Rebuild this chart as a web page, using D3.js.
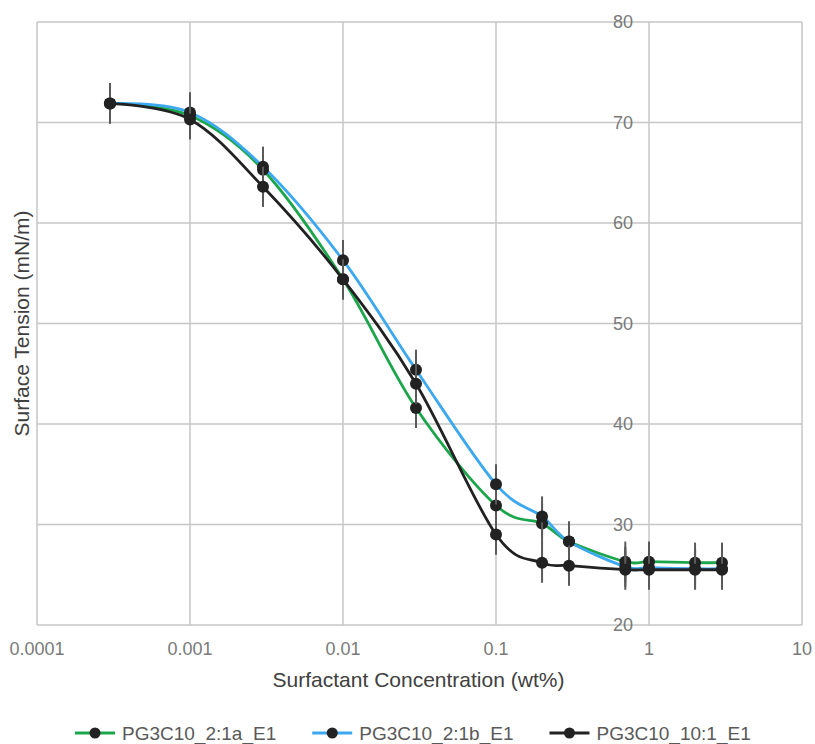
<!DOCTYPE html>
<html lang="en">
<head>
<meta charset="utf-8">
<script src="https://d3js.org/d3.v7.min.js"></script>
<style>
  body { margin: 0; background: #fff; }
  text { font-family: "Liberation Sans", Arial, sans-serif; }
</style>
</head>
<body>
<div id="chart"></div>
<script>
// concentrations (wt%)
var conc = [0.0003, 0.001, 0.003, 0.01, 0.03, 0.1, 0.2, 0.3, 0.7, 1, 2, 3];
// surface tension (mN/m) for each sample
var tension2a  = [71.9, 70.7, 65.3, 54.4, 41.6, 31.9, 30.1, 28.3, 26.3, 26.3, 26.2, 26.2];
var tension2b  = [71.9, 71.0, 65.6, 56.3, 45.4, 34.0, 30.8, 28.3, 25.8, 25.7, 25.6, 25.6];
var tension10  = [71.9, 70.3, 63.6, 54.4, 44.0, 29.0, 26.2, 25.9, 25.5, 25.5, 25.5, 25.5];
var errBar = 2;
var seriesNames = ["PG3C10_2:1a_E1", "PG3C10_2:1b_E1", "PG3C10_10:1_E1"];
var seriesColors = ["#1ba64c", "#3ba8ef", "#222222"];
var xTicks = [0.0001, 0.001, 0.01, 0.1, 1, 10];
var yTicks = [20, 30, 40, 50, 60, 70, 80];

var W = 815, H = 744;
var margin = {top: 22, right: 13, bottom: 119, left: 37};
var width = W - margin.left - margin.right,
    height = H - margin.top - margin.bottom;

var svg = d3.select("#chart").append("svg")
    .attr("width", W).attr("height", H);
var g = svg.append("g")
    .attr("transform", `translate(${margin.left},${margin.top})`);

var x = d3.scaleLog().domain([0.0001, 10]).range([0, width]);
var y = d3.scaleLinear().domain([20, 80]).range([height, 0]);

// grid
g.append("g").selectAll("line").data(xTicks).enter().append("line")
  .attr("x1", d => x(d)).attr("x2", d => x(d))
  .attr("y1", 0).attr("y2", height)
  .attr("stroke", "#c6c6c6").attr("stroke-width", 1.5);
g.append("g").selectAll("line").data(yTicks).enter().append("line")
  .attr("x1", 0).attr("x2", width)
  .attr("y1", d => y(d)).attr("y2", d => y(d))
  .attr("stroke", "#c6c6c6").attr("stroke-width", 1.5);

// x tick labels
g.append("g").selectAll("text").data(xTicks).enter().append("text")
  .attr("x", d => x(d)).attr("y", height + 30)
  .attr("text-anchor", "middle")
  .attr("font-size", 18).attr("fill", "#7a7a7a")
  .text(d => d3.format("~g")(d) === "0.0001" ? "0.0001" : String(d));

// y axis crosses at x = 1
var yAxisX = x(1);
g.append("g").selectAll("text").data(yTicks).enter().append("text")
  .attr("x", yAxisX - 16).attr("y", d => y(d))
  .attr("dy", "0.35em")
  .attr("text-anchor", "end")
  .attr("font-size", 18).attr("fill", "#7a7a7a")
  .text(d => d);

// axis titles
svg.append("text")
  .attr("x", margin.left + width / 2 - 1).attr("y", 687)
  .attr("text-anchor", "middle")
  .attr("font-size", 21).attr("fill", "#404040")
  .text("Surfactant Concentration (wt%)");
svg.append("text")
  .attr("transform", `translate(29,${margin.top + height / 2}) rotate(-90)`)
  .attr("text-anchor", "middle")
  .attr("font-size", 21).attr("fill", "#404040")
  .text("Surface Tension (mN/m)");

var allSeries = [tension2a, tension2b, tension10].map(function(vals, i) {
  return {
    name: seriesNames[i], color: seriesColors[i],
    pts: conc.map((c, j) => ({c: c, v: vals[j]}))
  };
});

var line = d3.line()
  .x(d => x(d.c)).y(d => y(d.v))
  .curve(d3.curveCardinal.tension(0));

allSeries.forEach(function(s) {
  g.append("path").datum(s.pts)
    .attr("fill", "none").attr("stroke", s.color)
    .attr("stroke-width", 2.8)
    .attr("d", line);
});

allSeries.forEach(function(s) {
  g.append("g").selectAll("line").data(s.pts).enter().append("line")
    .attr("x1", d => x(d.c)).attr("x2", d => x(d.c))
    .attr("y1", d => y(d.v - errBar)).attr("y2", d => y(d.v + errBar))
    .attr("stroke", "#5a5a5a").attr("stroke-width", 2);
  g.append("g").selectAll("circle").data(s.pts).enter().append("circle")
    .attr("cx", d => x(d.c)).attr("cy", d => y(d.v))
    .attr("r", 6).attr("fill", "#222");
});

// legend
var legend = svg.append("g");
var lx = 75, ly = 733;
allSeries.forEach(function(s) {
  var item = legend.append("g").attr("transform", `translate(${lx},${ly})`);
  item.append("line").attr("x1", 0).attr("x2", 40).attr("y1", 0).attr("y2", 0)
    .attr("stroke", s.color).attr("stroke-width", 3);
  item.append("circle").attr("cx", 20).attr("cy", 0).attr("r", 5.5).attr("fill", "#222");
  var t = item.append("text").attr("x", 47).attr("y", 0).attr("dy", "0.35em")
    .attr("font-size", 19).attr("fill", "#595959").text(s.name);
  lx += 47 + t.node().getComputedTextLength() + 36;
});
</script>
</body>
</html>
